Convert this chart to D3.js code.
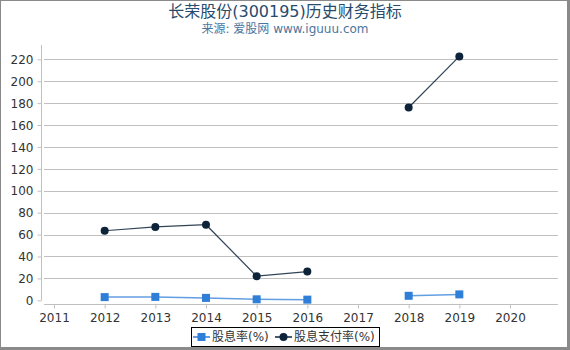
<!DOCTYPE html>
<html>
<head>
<meta charset="utf-8">
<script src="https://cdn.jsdelivr.net/npm/d3@7"></script>
<style>
  body { margin: 0; background: #fff; }
  svg, svg text { font-family: "DejaVu Sans", "Noto Sans CJK SC", sans-serif; }
  svg { display: block; }
</style>
</head>
<body>
<div id="chart"></div>
<script>
// chart data
const years = [2011, 2012, 2013, 2014, 2015, 2016, 2017, 2018, 2019, 2020];
const yTicks = [0, 20, 40, 60, 80, 100, 120, 140, 160, 180, 200, 220];
// null = no value for that year (line breaks)
const dividendYield = [null, 2.9, 3.1, 2.2, 0.9, 0.6, null, 4.1, 5.4, null];
const payoutRatio = [null, 63.5, 67.0, 69.0, 22.0, 26.2, null, 176.0, 222.6, null];
const seriesNames = ['股息率(%)', '股息支付率(%)'];

const width = 570, height = 350;

const svg = d3.select('#chart')
  .append('svg')
  .attr('width', width)
  .attr('height', height);

// outer frame
svg.append('rect')
  .attr('x', 0.5).attr('y', 0.5)
  .attr('width', 567.5).attr('height', 347.5)
  .attr('fill', 'none')
  .attr('stroke', '#8a8a8a')
  .attr('stroke-width', 1);
svg.append('rect').attr('x', 567).attr('y', 0).attr('width', 3).attr('height', 350).attr('fill', '#8a8a8a');
svg.append('rect').attr('x', 0).attr('y', 347).attr('width', 570).attr('height', 3).attr('fill', '#8a8a8a');

// titles
svg.append('text')
  .attr('x', 285).attr('y', 17)
  .attr('text-anchor', 'middle')
  .style('font-size', '16px')
  .style('fill', '#274b6d')
  .text('长荣股份(300195)历史财务指标');
svg.append('text')
  .attr('x', 285).attr('y', 33)
  .attr('text-anchor', 'middle')
  .style('font-size', '12px')
  .style('fill', '#4d759e')
  .text('来源: 爱股网 www.iguuu.com');

// scales
const x = d3.scaleLinear().domain([2011, 2020]).range([54, 510]);
const y = d3.scaleLinear().domain([0, 220]).range([300.3, 59.3]);

const plotLeft = 44, plotRight = 558, axisY = 304;

// gridlines (no line at 0, x axis sits below)
svg.append('g')
  .selectAll('line')
  .data(yTicks.filter(d => d > 0))
  .join('line')
  .attr('x1', plotLeft).attr('x2', plotRight)
  .attr('y1', d => Math.round(y(d)) + 0.5)
  .attr('y2', d => Math.round(y(d)) + 0.5)
  .attr('stroke', '#c0c0c0')
  .attr('stroke-width', 1);

// y axis
const yAxis = svg.append('g')
  .attr('transform', 'translate(41.5,0)')
  .attr('font-family', null)
  .call(d3.axisLeft(y).tickValues(yTicks).tickSize(4).tickPadding(4));
yAxis.attr('font-family', null);
yAxis.select('.domain').attr('d', 'M0,45V' + y(0)).attr('stroke', '#c0c0c0');
yAxis.selectAll('.tick line').attr('stroke', '#c0c0c0');
yAxis.selectAll('.tick text').style('font-size', '12px').style('fill', '#333').attr('dy', '0.35em');

// x axis
const xAxis = svg.append('g')
  .attr('transform', `translate(0,${axisY + 0.5})`)
  .call(d3.axisBottom(x).tickValues(years).tickFormat(d3.format('d')).tickSize(4).tickPadding(5));
xAxis.attr('font-family', null);
xAxis.select('.domain').attr('d', `M${plotLeft},0H${plotRight}`).attr('stroke', '#c0c0c0');
xAxis.selectAll('.tick line').attr('stroke', '#c0c0c0');
xAxis.selectAll('.tick text').style('font-size', '12px').style('fill', '#333');

const line = d3.line()
  .defined(d => d.v !== null)
  .x(d => x(d.year))
  .y(d => y(d.v));

const yieldData = years.map((year, i) => ({ year, v: dividendYield[i] }));
const payoutData = years.map((year, i) => ({ year, v: payoutRatio[i] }));

// dividend yield series
svg.append('path')
  .datum(yieldData)
  .attr('d', line)
  .attr('fill', 'none')
  .attr('stroke', '#2f7ed8')
  .attr('stroke-opacity', 0.75)
  .attr('stroke-width', 1.5);
svg.append('g')
  .selectAll('rect')
  .data(yieldData.filter(d => d.v !== null))
  .join('rect')
  .attr('x', d => x(d.year) - 4)
  .attr('y', d => y(d.v) - 4)
  .attr('width', 8).attr('height', 8)
  .attr('fill', '#2f7ed8');

// payout ratio series
svg.append('path')
  .datum(payoutData)
  .attr('d', line)
  .attr('fill', 'none')
  .attr('stroke', '#0d233a')
  .attr('stroke-opacity', 0.85)
  .attr('stroke-width', 1.2);
svg.append('g')
  .selectAll('circle')
  .data(payoutData.filter(d => d.v !== null))
  .join('circle')
  .attr('cx', d => x(d.year))
  .attr('cy', d => y(d.v))
  .attr('r', 4)
  .attr('fill', '#0d233a');

// legend
const legend = svg.append('g');
legend.append('rect')
  .attr('x', 191.5).attr('y', 327.5)
  .attr('width', 188).attr('height', 19)
  .attr('fill', '#fff')
  .attr('stroke', '#000')
  .attr('stroke-width', 1);

const legendItems = [
  { x: 193, color: '#2f7ed8', shape: 'square', name: seriesNames[0] },
  { x: 275, color: '#0d233a', shape: 'circle', name: seriesNames[1] }
];
legendItems.forEach(it => {
  const g = legend.append('g').attr('transform', `translate(${it.x},337)`);
  g.append('line')
    .attr('x1', 0).attr('x2', 17)
    .attr('stroke', it.color)
    .attr('stroke-opacity', 0.75)
    .attr('stroke-width', 2);
  if (it.shape === 'square') {
    g.append('rect').attr('x', 4.5).attr('y', -4).attr('width', 8).attr('height', 8).attr('fill', it.color);
  } else {
    g.append('circle').attr('cx', 8.5).attr('cy', 0).attr('r', 4).attr('fill', it.color);
  }
  g.append('text')
    .attr('x', 19).attr('y', 0).attr('dy', '0.35em')
    .style('font-size', '12px')
    .style('fill', '#333')
    .text(it.name);
});
</script>
</body>
</html>
